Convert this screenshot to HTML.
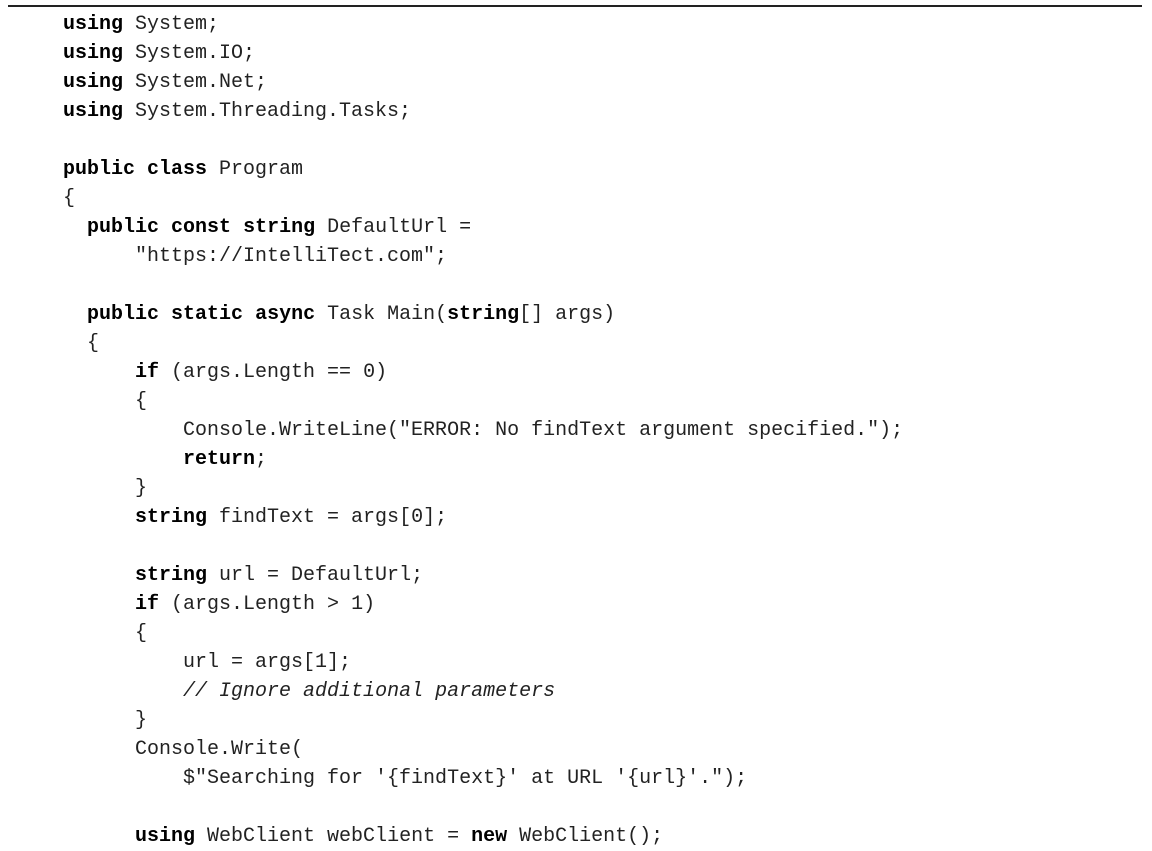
<!DOCTYPE html>
<html><head><meta charset="utf-8"><style>
html,body{margin:0;padding:0;background:#fff;width:1152px;height:846px;overflow:hidden;}
.rule{position:absolute;left:8px;top:5px;width:1134px;height:2px;background:#222;}
pre{position:absolute;left:63px;top:10px;margin:0;font-family:"Liberation Mono",monospace;font-size:20px;line-height:29px;color:#222;}
b{font-weight:bold;color:#000;}
i{font-style:italic;}
</style></head><body>
<div class="rule"></div>
<pre><b>using</b> System;
<b>using</b> System.IO;
<b>using</b> System.Net;
<b>using</b> System.Threading.Tasks;

<b>public</b> <b>class</b> Program
{
  <b>public</b> <b>const</b> <b>string</b> DefaultUrl =
      "https://IntelliTect.com";

  <b>public</b> <b>static</b> <b>async</b> Task Main(<b>string</b>[] args)
  {
      <b>if</b> (args.Length == 0)
      {
          Console.WriteLine("ERROR: No findText argument specified.");
          <b>return</b>;
      }
      <b>string</b> findText = args[0];

      <b>string</b> url = DefaultUrl;
      <b>if</b> (args.Length &gt; 1)
      {
          url = args[1];
          <i>// Ignore additional parameters</i>
      }
      Console.Write(
          $"Searching for '{findText}' at URL '{url}'.");

      <b>using</b> WebClient webClient = <b>new</b> WebClient();
</pre>
</body></html>
